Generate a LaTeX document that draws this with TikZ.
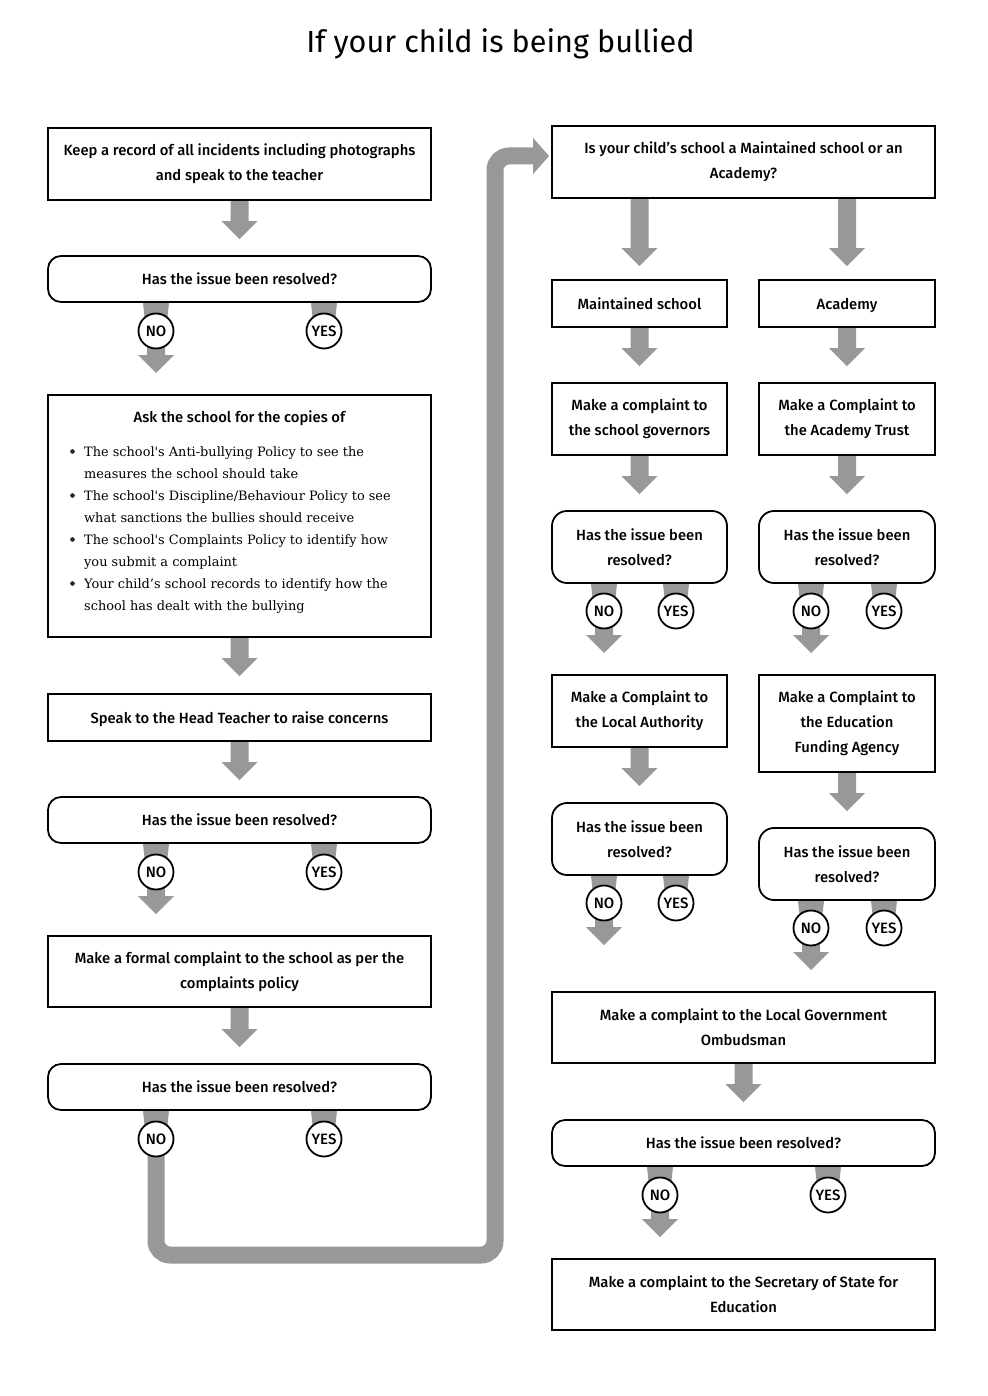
\documentclass[tikz,border=0pt]{standalone}
\usepackage{fontspec}
\setmainfont{Fira Sans}
\newfontfamily\med{Fira Sans Medium}
\newfontfamily\serif[Ligatures=TeXOff]{DejaVu Serif}
\usetikzlibrary{calc}
\pgfdeclarelayer{bg}
\pgfsetlayers{bg,main}
\definecolor{agray}{RGB}{152,152,152}
\tikzset{
  box/.style={draw, line width=1.8pt, fill=white, align=center, inner sep=0pt,
    font=\med\fontsize{14.8}{25}\selectfont},
  dbox/.style={box, rounded corners=13pt},
  yn/.style={circle, draw, line width=1.8pt, fill=white, minimum size=35pt, inner sep=0pt,
    font=\med\fontsize{15}{15}\selectfont},
  litem/.style={anchor=base west, inner sep=0pt, font=\serif\fontsize{12.9}{22}\selectfont},
  lhead/.style={anchor=base, inner sep=0pt, font=\med\fontsize{14.8}{25}\selectfont},
  oneline/.style={text height=12.5pt, text depth=1pt},
}
\newcommand\barrow[2]{%
  \fill[agray] ($(#1)+(-9,0)$) -- ($(#1)+(9,0)$) -- ($(#2)+(9,-18)$) -- ($(#2)+(18,-18)$)
    -- (#2) -- ($(#2)+(-18,-18)$) -- ($(#2)+(-9,-18)$) -- cycle;}
\newcommand\stub[2]{%
  \fill[agray] ($(#1)+(-13,0)$) -- ($(#1)+(13,0)$) -- ($(#2)+(10,0)$) -- ($(#2)+(-10,0)$) -- cycle;}
\begin{document}
\begin{tikzpicture}[x=1pt,y=-1pt]
\useasboundingbox (0,0) rectangle (987,1396);

\node[inner sep=0pt, font=\fontsize{30.6}{32}\selectfont] (title) at (500.5,44) {If your child is being bullied};

% left column
\node[box, minimum width=383pt, minimum height=72pt] (b1) at (239.5,164) {Keep a record of all incidents including photographs\\and speak to the teacher};
\node[dbox, oneline, minimum width=383pt, minimum height=46pt] (d1) at (239.5,279) {Has the issue been resolved?};
\node[box, minimum width=383pt, minimum height=242pt] (b2) at (239.5,516) {};
\node[box, oneline, minimum width=383pt, minimum height=47pt] (b3) at (239.5,717.5) {Speak to the Head Teacher to raise concerns};
\node[dbox, oneline, minimum width=383pt, minimum height=46pt] (d2) at (239.5,820) {Has the issue been resolved?};
\node[box, minimum width=383pt, minimum height=71pt] (b4) at (239.5,971.5) {Make a formal complaint to the school as per the\\complaints policy};
\node[dbox, oneline, minimum width=383pt, minimum height=46pt] (d3) at (239.5,1087) {Has the issue been resolved?};

% list content
\node[lhead] (lh) at (239.5,422) {Ask the school for the copies of};
\node[litem] (l1a) at (84,456.5) {The school's Anti-bullying Policy to see the};
\node[litem] (l1b) at (84,478.5) {measures the school should take};
\node[litem] (l2a) at (84,500.5) {The school's Discipline/Behaviour Policy to see};
\node[litem] (l2b) at (84,522.5) {what sanctions the bullies should receive};
\node[litem] (l3a) at (84,544.5) {The school's Complaints Policy to identify how};
\node[litem] (l3b) at (84,566.5) {you submit a complaint};
\node[litem] (l4a) at (84,588.5) {Your child’s school records to identify how the};
\node[litem] (l4b) at (84,610.5) {school has dealt with the bullying};
\foreach \yy in {451.5,495.5,539.5,583.5} \fill[black!85] (72.5,\yy) circle (2.3pt);

% right column
\node[box, minimum width=383pt, minimum height=72pt] (r1) at (743.5,162) {Is your child’s school a Maintained school or an\\Academy?};
\node[box, oneline, minimum width=175pt, minimum height=47pt] (m1) at (639.5,303.5) {Maintained school};
\node[box, oneline, minimum width=176pt, minimum height=47pt] (a1) at (847,303.5) {Academy};
\node[box, minimum width=175pt, minimum height=72pt] (m2) at (639.5,419) {Make a complaint to\\the school governors};
\node[box, minimum width=176pt, minimum height=72pt] (a2) at (847,419) {Make a Complaint to\\the Academy Trust};
\node[dbox, rounded corners=15pt, minimum width=175pt, minimum height=72pt] (md1) at (639.5,547) {Has the issue been\\resolved?};
\node[dbox, rounded corners=15pt, minimum width=176pt, minimum height=72pt] (ad1) at (847,547) {Has the issue been\\resolved?};
\node[box, minimum width=175pt, minimum height=72pt] (m3) at (639.5,711) {Make a Complaint to\\the Local Authority};
\node[box, minimum width=176pt, minimum height=97pt] (a3) at (847,723.5) {Make a Complaint to\\the Education\\Funding Agency};
\node[dbox, rounded corners=15pt, minimum width=175pt, minimum height=72pt] (md2) at (639.5,839) {Has the issue been\\resolved?};
\node[dbox, rounded corners=15pt, minimum width=176pt, minimum height=72pt] (ad2) at (847,864) {Has the issue been\\resolved?};
\node[box, minimum width=383pt, minimum height=71pt] (r2) at (743.5,1027.5) {Make a complaint to the Local Government\\Ombudsman};
\node[dbox, oneline, minimum width=383pt, minimum height=46pt] (rd) at (743.5,1143) {Has the issue been resolved?};
\node[box, minimum width=383pt, minimum height=71pt] (r3) at (743.5,1294.5) {Make a complaint to the Secretary of State for\\Education};

% yes/no circles
\node[yn] (n1) at (156,331) {NO};   \node[yn] (y1) at (324,331) {YES};
\node[yn] (n2) at (156,872) {NO};   \node[yn] (y2) at (324,872) {YES};
\node[yn] (n3) at (156,1139) {NO};  \node[yn] (y3) at (324,1139) {YES};
\node[yn] (mn1) at (604,611) {NO};  \node[yn] (my1) at (676,611) {YES};
\node[yn] (an1) at (811,611) {NO};  \node[yn] (ay1) at (884,611) {YES};
\node[yn] (mn2) at (604,903) {NO};  \node[yn] (my2) at (676,903) {YES};
\node[yn] (an2) at (811,928) {NO};  \node[yn] (ay2) at (884,928) {YES};
\node[yn] (rn) at (660,1195) {NO};  \node[yn] (ry) at (828,1195) {YES};

\begin{pgfonlayer}{bg}
  \fill[white] (0,0) rectangle (987,1396);
  % stubs from decision boxes to circles
  \foreach \c/\d in {n1/d1,y1/d1,n2/d2,y2/d2,n3/d3,y3/d3,mn1/md1,my1/md1,an1/ad1,ay1/ad1,mn2/md2,my2/md2,an2/ad2,ay2/ad2,rn/rd,ry/rd}{
    \coordinate (s) at (\c.center |- \d.south);
    \stub{s}{\c.center}
  }
  % arrows between boxes
  \coordinate (t1) at ($(d1.north)+(0,-16)$);  \barrow{b1.south}{t1}
  \coordinate (t2) at ($(n1.center)+(0,42)$);  \barrow{n1.center}{t2}
  \coordinate (t3) at ($(b3.north)+(0,-17)$);  \barrow{b2.south}{t3}
  \coordinate (t4) at ($(d2.north)+(0,-16)$);  \barrow{b3.south}{t4}
  \coordinate (t5) at ($(n2.center)+(0,42)$);  \barrow{n2.center}{t5}
  \coordinate (t6) at ($(d3.north)+(0,-16)$);  \barrow{b4.south}{t6}
  \coordinate (s8) at (m1.north |- r1.south);  \coordinate (t8) at ($(m1.north)+(0,-13)$); \barrow{s8}{t8}
  \coordinate (s9) at (a1.north |- r1.south);  \coordinate (t9) at ($(a1.north)+(0,-13)$); \barrow{s9}{t9}
  \coordinate (t10) at ($(m2.north)+(0,-16)$); \barrow{m1.south}{t10}
  \coordinate (t11) at ($(a2.north)+(0,-16)$); \barrow{a1.south}{t11}
  \coordinate (t12) at ($(md1.north)+(0,-16)$); \barrow{m2.south}{t12}
  \coordinate (t13) at ($(ad1.north)+(0,-16)$); \barrow{a2.south}{t13}
  \coordinate (t14) at ($(mn1.center)+(0,42)$); \barrow{mn1.center}{t14}
  \coordinate (t15) at ($(an1.center)+(0,42)$); \barrow{an1.center}{t15}
  \coordinate (t16) at ($(md2.north)+(0,-16)$); \barrow{m3.south}{t16}
  \coordinate (t17) at ($(ad2.north)+(0,-16)$); \barrow{a3.south}{t17}
  \coordinate (t18) at ($(mn2.center)+(0,42)$); \barrow{mn2.center}{t18}
  \coordinate (t19) at ($(an2.center)+(0,42)$); \barrow{an2.center}{t19}
  \coordinate (t20) at ($(rd.north)+(0,-17)$);  \barrow{r2.south}{t20}
  \coordinate (t21) at ($(rn.center)+(0,42)$);  \barrow{rn.center}{t21}
  % long connector from the last NO to the right column
  \coordinate (tipL) at ($(r1.west)+(-2,-6)$);
  \coordinate (lb) at (156,1255);
  \coordinate (rb) at (495,1255);
  \coordinate (rt) at (495,0 |- tipL);
  \coordinate (he) at ($(tipL)+(-16,0)$);
  \draw[agray, line width=17pt, rounded corners=14pt] (n3.center) -- (lb) -- (rb) -- (rt) -- ($(he)+(1,0)$);
  \fill[agray] ($(he)+(0,-18)$) -- (tipL) -- ($(he)+(0,18)$) -- cycle;
\end{pgfonlayer}
\end{tikzpicture}
\end{document}
